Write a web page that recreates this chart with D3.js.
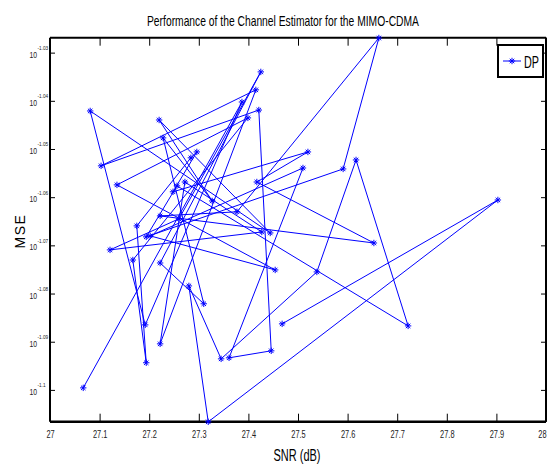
<!DOCTYPE html>
<html><head><meta charset="utf-8">
<script src="https://cdn.jsdelivr.net/npm/d3@7"></script>
<style>body{margin:0;background:#fff}</style>
</head><body>
<script>
// ---- data ----
const snr = [27.067,27.387,27.192,27.081,27.444,27.220,27.327,27.228,27.310,27.222,
             27.425,27.260,27.121,27.427,27.272,27.222,27.415,27.103,27.421,27.446,
             27.361,27.510,27.202,27.454,27.135,27.399,27.167,27.194,27.175,27.284,
             27.296,27.248,27.520,27.417,27.653,27.222,27.377,27.663,27.591,27.194,
             27.256,27.722,27.617,27.538,27.345,27.280,27.319,27.903,27.468];
const mse = [0.07951,0.09115,0.08194,0.09076,0.08562,0.09037,0.08694,0.08960,0.08277,0.08440,
             0.09247,0.08620,0.08493,0.08566,0.08773,0.08120,0.09168,0.08841,0.09080,0.08093,
             0.08066,0.08832,0.08550,0.08412,0.08761,0.09046,0.08452,0.08047,0.08591,0.08875,
             0.08900,0.08732,0.08900,0.08773,0.08521,0.08632,0.08649,0.09398,0.08828,0.08546,
             0.08757,0.08190,0.08866,0.08404,0.08062,0.08348,0.07823,0.08698,0.08198];
const xTicks = [27,27.1,27.2,27.3,27.4,27.5,27.6,27.7,27.8,27.9,28];
const xTickLabels = ["27","27.1","27.2","27.3","27.4","27.5","27.6","27.7","27.8","27.9","28"];
const yTickExps = ["-1.03","-1.04","-1.05","-1.06","-1.07","-1.08","-1.09","-1.1"];
const seriesName = "DP";
const titleText = "Performance of the Channel Estimator for the MIMO-CDMA";
const xLabel = "SNR (dB)";
const yLabel = "MSE";

// ---- layout ----
const W = 549, H = 465;
const L = 50, R = 546, T = 37.7, B = 421.7;
const FONT = "'Liberation Sans Narrow','Liberation Sans',Arial,sans-serif";
const BLUE = "#0000ff";

const svg = d3.select("body").append("svg").attr("width", W).attr("height", H)
  .style("font-family", FONT);

const x = d3.scaleLinear().domain([27, 28]).range([L, R]);
const y = d3.scaleLog().domain([Math.pow(10, -1.1066), Math.pow(10, -1.0269)]).range([B, T]);
const yTicks = yTickExps.map(e => Math.pow(10, +e));

function squeeze(sel, f) {
  sel.each(function() {
    const n = this.getComputedTextLength();
    d3.select(this).attr("textLength", n * f).attr("lengthAdjust", "spacingAndGlyphs");
  });
}

// bottom axis
const gx = svg.append("g").attr("transform", `translate(0,${B})`)
  .call(d3.axisBottom(x).tickValues(xTicks).tickSize(-8).tickPadding(9)
        .tickFormat((d, i) => xTickLabels[i]));
gx.select(".domain").remove();
gx.selectAll(".tick line").attr("stroke", "#000").attr("stroke-width", 1);
gx.selectAll(".tick text").attr("font-size", 10).attr("fill", "#222").call(squeeze, 0.74);
gx.selectAll(".tick text").filter((d, i) => i === xTicks.length - 1)
  .attr("text-anchor", "end").attr("x", 0);

// top ticks
const gxt = svg.append("g").attr("transform", `translate(0,${T})`)
  .call(d3.axisTop(x).tickValues(xTicks).tickSize(-8).tickFormat(""));
gxt.select(".domain").remove();
gxt.selectAll(".tick line").attr("stroke", "#000").attr("stroke-width", 1);

// left axis
const gy = svg.append("g").attr("transform", `translate(${L},0)`)
  .call(d3.axisLeft(y).tickValues(yTicks).tickSize(-5).tickFormat(""));
gy.select(".domain").remove();
gy.selectAll(".tick line").attr("stroke", "#000").attr("stroke-width", 1);
gy.selectAll(".tick").each(function(d, i) {
  const g = d3.select(this);
  g.append("text").attr("x", -13).attr("y", 4.5).attr("text-anchor", "end")
    .attr("font-size", 8.5).attr("fill", "#222").text("10").call(squeeze, 0.8);
  g.append("text").attr("x", -12.5).attr("y", -3).attr("text-anchor", "start")
    .attr("font-size", 5.5).attr("fill", "#222").text(yTickExps[i]).call(squeeze, 0.85);
});

// right ticks
const gyr = svg.append("g").attr("transform", `translate(${R},0)`)
  .call(d3.axisRight(y).tickValues(yTicks).tickSize(-5).tickFormat(""));
gyr.select(".domain").remove();
gyr.selectAll(".tick line").attr("stroke", "#000").attr("stroke-width", 1);

// box
svg.append("line").attr("x1", L).attr("x2", R).attr("y1", T).attr("y2", T).attr("stroke", "#000").attr("stroke-width", 2);
svg.append("line").attr("x1", L).attr("x2", R).attr("y1", B).attr("y2", B).attr("stroke", "#000").attr("stroke-width", 2.5);
svg.append("line").attr("x1", L).attr("x2", L).attr("y1", T).attr("y2", B).attr("stroke", "#000").attr("stroke-width", 2);
svg.append("line").attr("x1", R).attr("x2", R).attr("y1", T).attr("y2", B).attr("stroke", "#000").attr("stroke-width", 2);

// data line
const pts = snr.map((s, i) => [s, mse[i]]);
const line = d3.line().x(d => x(d[0])).y(d => y(d[1]));
svg.append("path").datum(pts).attr("d", line).attr("fill", "none")
  .attr("stroke", BLUE).attr("stroke-width", 1).attr("stroke-linejoin", "round");

function star(g, cx, cy, r) {
  const p = `M${cx - r},${cy}L${cx + r},${cy}M${cx},${cy - r}L${cx},${cy + r}` +
            `M${cx - r * 0.7},${cy - r * 0.7}L${cx + r * 0.7},${cy + r * 0.7}` +
            `M${cx - r * 0.7},${cy + r * 0.7}L${cx + r * 0.7},${cy - r * 0.7}`;
  g.append("path").attr("d", p).attr("stroke", BLUE).attr("stroke-width", 1).attr("fill", "none");
}
const gm = svg.append("g");
pts.forEach(d => star(gm, x(d[0]), y(d[1]), 3.2));

// legend
svg.append("rect").attr("x", 498).attr("y", 45).attr("width", 45).attr("height", 32)
  .attr("fill", "#fff").attr("stroke", "#000").attr("stroke-width", 2);
svg.append("line").attr("x1", 503).attr("x2", 521).attr("y1", 61).attr("y2", 61)
  .attr("stroke", BLUE).attr("stroke-width", 1);
star(svg, 512, 61, 3.2);
svg.append("text").attr("x", 524).attr("y", 68).attr("font-size", 17).attr("fill", "#000")
  .text(seriesName).attr("textLength", 15).attr("lengthAdjust", "spacingAndGlyphs");

// title & labels
svg.append("text").attr("x", 283).attr("y", 26).attr("text-anchor", "middle")
  .attr("font-size", 15).attr("fill", "#000").text(titleText)
  .attr("textLength", 272).attr("lengthAdjust", "spacingAndGlyphs");
svg.append("text").attr("x", 297).attr("y", 461).attr("text-anchor", "middle")
  .attr("font-size", 16).attr("fill", "#000").text(xLabel)
  .attr("textLength", 47).attr("lengthAdjust", "spacingAndGlyphs");
svg.append("text").attr("transform", "translate(25,231) rotate(-90)").attr("text-anchor", "middle")
  .attr("font-size", 14).attr("font-family", "'Liberation Sans',Arial,sans-serif")
  .attr("letter-spacing", 1.5).attr("fill", "#000").text(yLabel);
</script>
</body></html>
